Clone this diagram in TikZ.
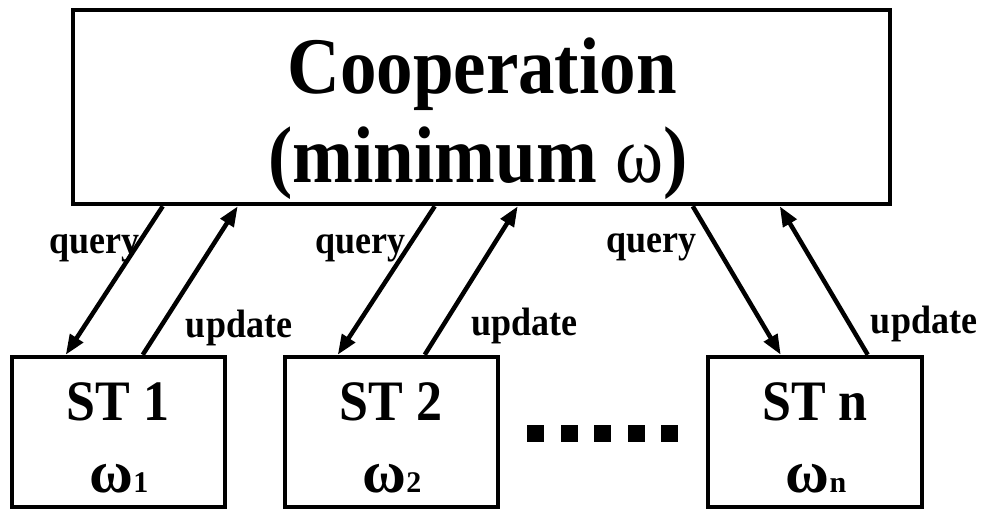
\documentclass[tikz,border=0pt]{standalone}
\usepackage{fontspec}
\usepackage{graphicx}
\setmainfont{Liberation Serif}
\usetikzlibrary{arrows.meta}
\newcommand{\vstr}[1]{\scalebox{1}[1.1]{#1}}
\begin{document}
\begin{tikzpicture}[x=1pt,y=-1pt,
  box/.style={draw,line width=4.5pt,inner sep=0pt},
  arr/.style={line width=4.5pt,-{Triangle[length=20pt,width=15pt]}},
  lbl/.style={font=\fontsize{36}{36}\selectfont\bfseries,anchor=base,inner sep=0pt},
  big/.style={font=\fontsize{73}{73}\selectfont\bfseries,anchor=base,inner sep=0pt},
  sttext/.style={font=\fontsize{52}{52}\selectfont\bfseries,anchor=base,inner sep=0pt},
  omtext/.style={anchor=base,inner sep=0pt,font=\bfseries}]
\useasboundingbox (0,0) rectangle (983,509);
% boxes
\node[box,minimum width=817pt,minimum height=194pt] (top) at (481.5,107) {};
\node[box,minimum width=213pt,minimum height=150pt] (st1) at (118.5,432) {};
\node[box,minimum width=213pt,minimum height=150pt] (st2) at (391.5,432) {};
\node[box,minimum width=214pt,minimum height=150pt] (stn) at (815,432) {};
% top text
\node[big] (t1) at (482,93) {\vstr{Cooperation}};
\node[big] (t2) at (478,182) {\vstr{(minimum {\mdseries ω})}};
% bottom texts
\node[sttext] (s1) at (118,420) {\vstr{ST 1}};
\node[sttext] (s2) at (391,420) {\vstr{ST 2}};
\node[sttext] (sn) at (815,420) {\vstr{ST n}};
\node[omtext] (w1) at (119,492) {{\fontsize{60}{60}\selectfont ω}{\fontsize{30}{30}\selectfont 1}};
\node[omtext] (w2) at (392,492) {{\fontsize{60}{60}\selectfont ω}{\fontsize{30}{30}\selectfont 2}};
\node[omtext] (wn) at (816,492) {{\fontsize{60}{60}\selectfont ω}{\fontsize{30}{30}\selectfont n}};
% dots
\foreach \i in {0,...,4}{
  \fill ({527+33.5*\i},425) rectangle +(17,17);
}
% arrows
\draw[arr] ([xshift=92pt]top.south west) -- ([xshift=56pt]st1.north west);
\draw[arr] ([xshift=133pt]st1.north west) -- ([xshift=167pt]top.south west);
\draw[arr] ([xshift=364pt]top.south west) -- ([xshift=55pt]st2.north west);
\draw[arr] ([xshift=142pt]st2.north west) -- ([xshift=447pt]top.south west);
\draw[arr] ([xshift=622pt]top.south west) -- ([xshift=75pt]stn.north west);
\draw[arr] ([xshift=162pt]stn.north west) -- ([xshift=709pt]top.south west);
% labels
\node[lbl] (q1) at (94,253) {\vstr{query}};
\node[lbl] (u1) at (239,337) {\vstr{update}};
\node[lbl] (q2) at (360,253) {\vstr{query}};
\node[lbl] (u2) at (524.5,335) {\vstr{update}};
\node[lbl] (qn) at (651.5,252) {\vstr{query}};
\node[lbl] (un) at (924,333) {\vstr{update}};
\end{tikzpicture}
\end{document}
